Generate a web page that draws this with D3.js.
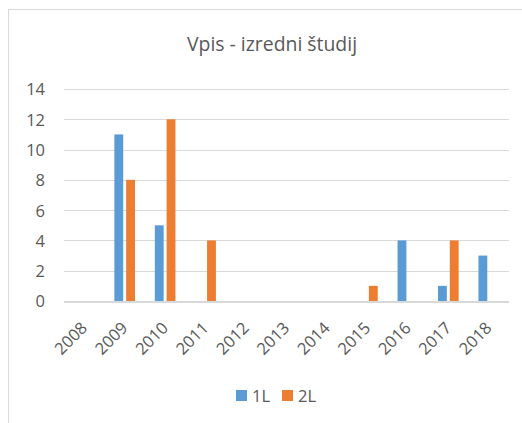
<!DOCTYPE html>
<html lang="sl">
<head>
<meta charset="utf-8">
<script src="https://d3js.org/d3.v7.min.js"></script>
<style>
  body { margin: 0; background: #fff; }
  text { font-family: "Open Sans", "Noto Sans", sans-serif; fill: #595959; }
</style>
</head>
<body>
<script>
  // data
  const years = ["2008", "2009", "2010", "2011", "2012", "2013", "2014", "2015", "2016", "2017", "2018"];
  const series = ["1L", "2L"];
  const values1L = [0, 11, 5, 0, 0, 0, 0, 0, 4, 1, 3];
  const values2L = [0, 8, 12, 4, 0, 0, 0, 1, 0, 4, 0];
  const yTicks = [0, 2, 4, 6, 8, 10, 12, 14];
  const colors = ["#5B9BD5", "#ED7D31"];
  const title = "Vpis - izredni študij";

  const W = 522, H = 423;
  const plotLeft = 64, plotRight = 509, plotTop = 89, plotBottom = 301;
  const tickFont = "16.5px";

  const svg = d3.select("body").append("svg")
    .attr("width", W)
    .attr("height", H);

  // chart border (runs off the right and bottom edge)
  svg.append("rect")
    .attr("x", 8.5).attr("y", 9.5)
    .attr("width", 700).attr("height", 600)
    .attr("fill", "#fff")
    .attr("stroke", "#D9D9D9");

  svg.append("text")
    .attr("x", 272).attr("y", 51)
    .attr("text-anchor", "middle")
    .style("font-size", "19.4px")
    .text(title);

  const y = d3.scaleLinear().domain([0, 14]).range([plotBottom, plotTop]);

  const x0 = d3.scaleBand().domain(years).range([plotLeft, plotRight])
    .paddingInner(0.49).paddingOuter(0.245);
  const x1 = d3.scaleBand().domain(series).range([0, x0.bandwidth()])
    .paddingInner(0.25);

  // gridlines
  svg.append("g")
    .selectAll("line")
    .data(yTicks.filter(d => d > 0))
    .enter().append("line")
    .attr("x1", plotLeft).attr("x2", plotRight)
    .attr("y1", d => Math.round(y(d)) + 0.5)
    .attr("y2", d => Math.round(y(d)) + 0.5)
    .attr("stroke", "#D9D9D9")
    .attr("stroke-width", 1);

  // y axis labels
  const yAxis = svg.append("g")
    .attr("transform", "translate(" + 45 + ",0)")
    .call(d3.axisLeft(y).tickValues(yTicks).tickSize(0).tickPadding(0));
  yAxis.select(".domain").remove();
  yAxis.selectAll("text")
    .attr("font-family", null)
    .style("font-size", tickFont)
    .attr("dy", "0.36em");

  // bars
  const rows = years.map((yr, i) => ({ year: yr, vals: [values1L[i], values2L[i]] }));
  svg.append("g")
    .selectAll("g")
    .data(rows)
    .enter().append("g")
    .attr("transform", d => "translate(" + x0(d.year) + ",0)")
    .selectAll("rect")
    .data(d => d.vals.map((v, j) => ({ key: series[j], v: v, c: colors[j] })))
    .enter().append("rect")
    .attr("x", d => x1(d.key))
    .attr("y", d => y(d.v))
    .attr("width", x1.bandwidth())
    .attr("height", d => y(0) - y(d.v))
    .attr("fill", d => d.c);

  // x axis line
  svg.append("line")
    .attr("x1", plotLeft).attr("x2", plotRight)
    .attr("y1", plotBottom + 1).attr("y2", plotBottom + 1)
    .attr("stroke", "#D9D9D9")
    .attr("stroke-width", 2);

  // x axis labels, rotated
  const xAxis = svg.append("g")
    .attr("transform", "translate(0," + plotBottom + ")")
    .call(d3.axisBottom(x0).tickSize(0).tickPadding(0));
  xAxis.select(".domain").remove();
  xAxis.selectAll("text")
    .attr("font-family", null)
    .style("font-size", tickFont)
    .attr("text-anchor", "end")
    .attr("y", 0).attr("dy", 0)
    .attr("transform", "translate(4,28) rotate(-45)");

  // legend
  const legend = svg.append("g")
    .selectAll("g")
    .data(series)
    .enter().append("g")
    .attr("transform", (d, i) => "translate(" + (236 + i * 46) + ",390)");
  legend.append("rect")
    .attr("width", 11).attr("height", 11)
    .attr("fill", (d, i) => colors[i]);
  legend.append("text")
    .attr("x", 16).attr("y", 12)
    .style("font-size", tickFont)
    .text(d => d);
</script>
</body>
</html>
